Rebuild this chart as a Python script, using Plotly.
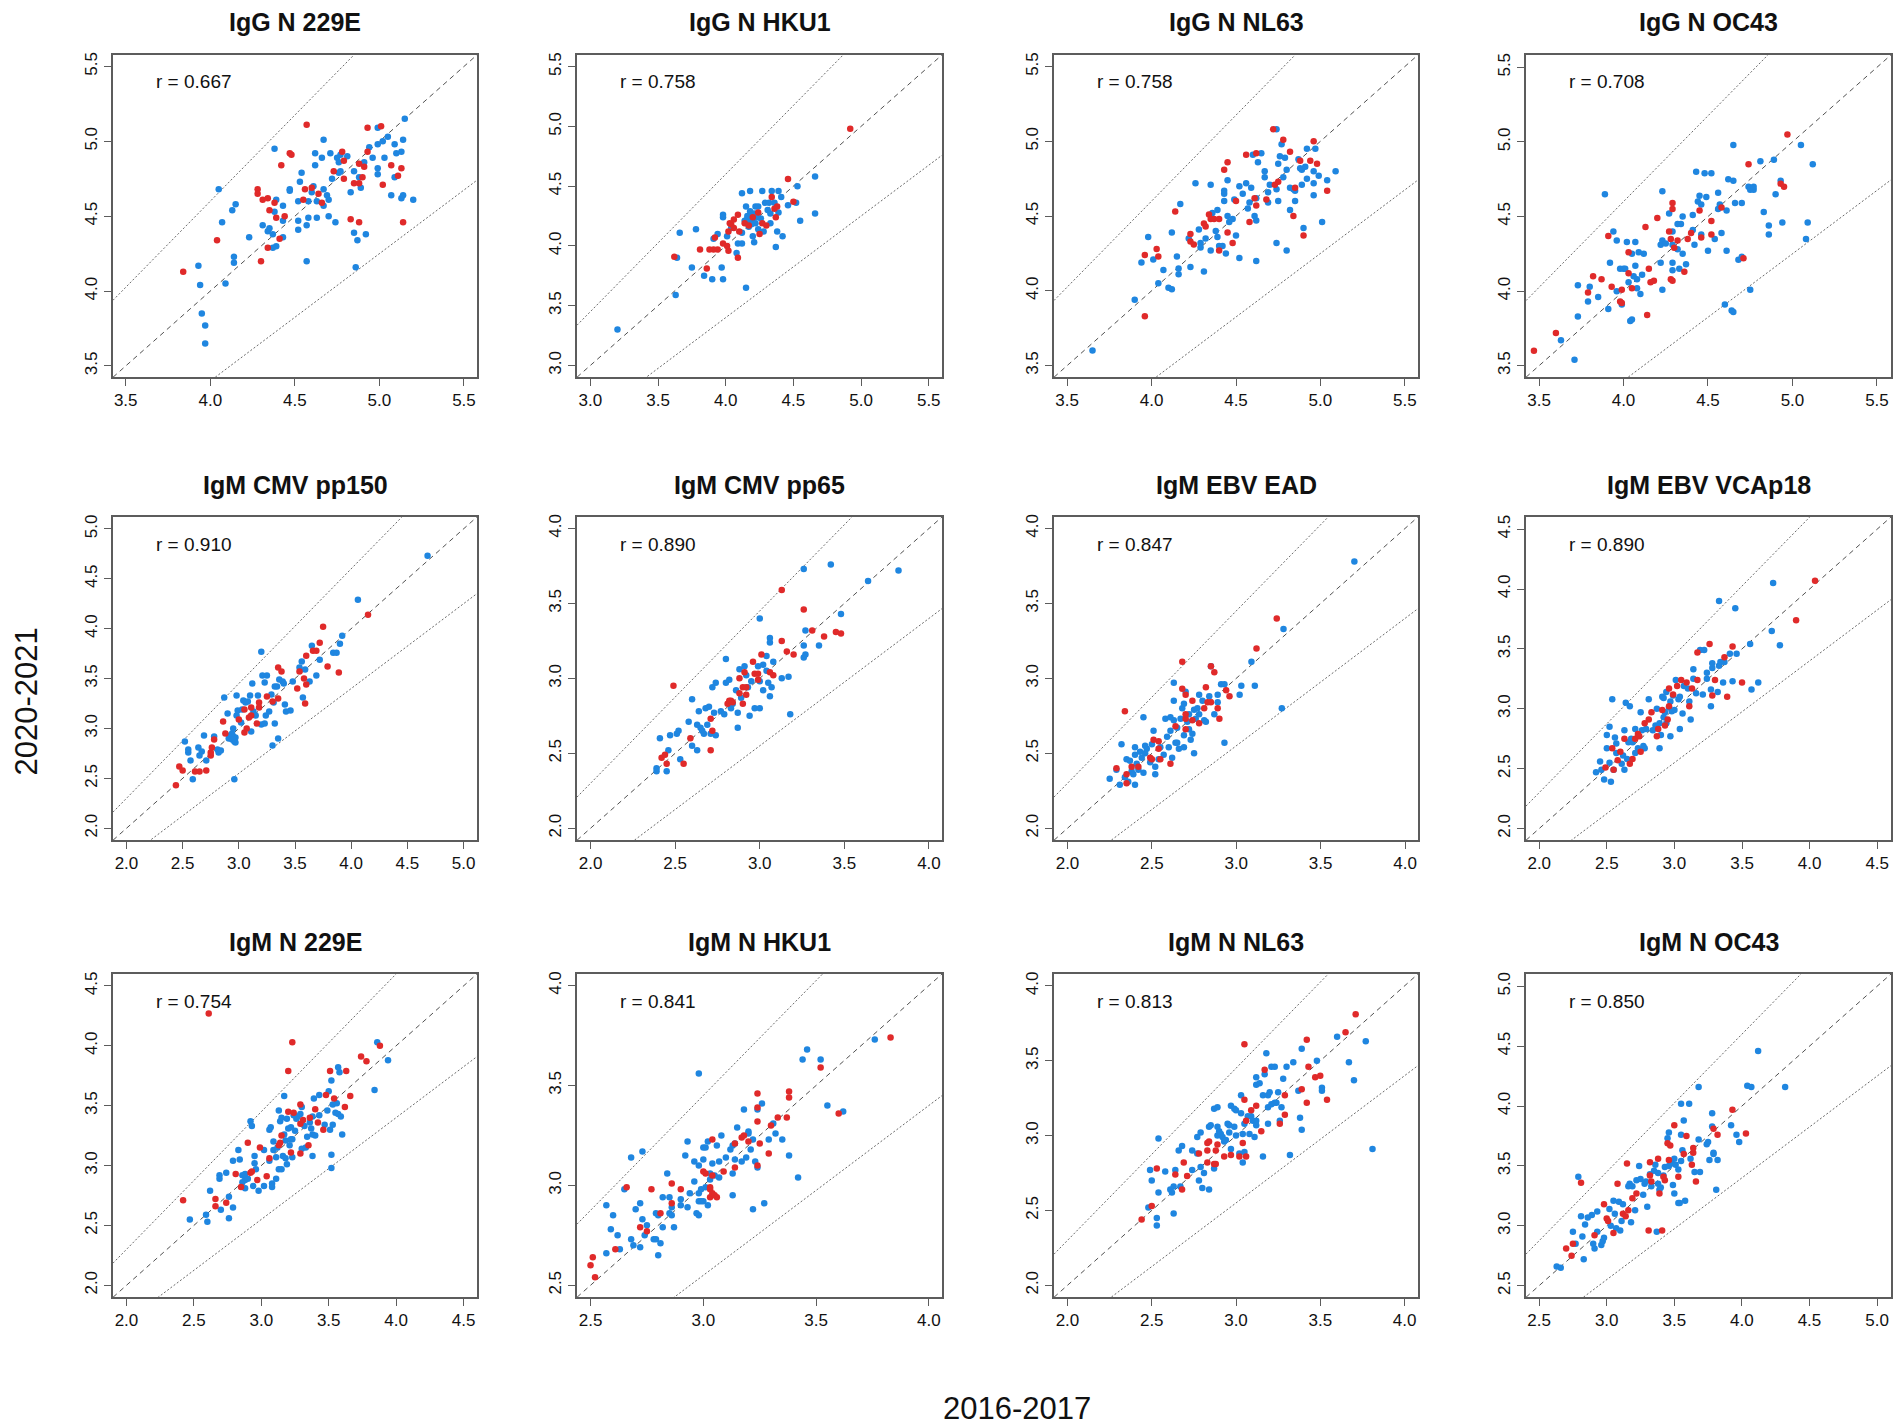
import plotly.graph_objects as go

# panel titles, correlation labels and the shared x/y range of each panel
titles = ["IgG N 229E", "IgG N HKU1", "IgG N NL63", "IgG N OC43",
          "IgM CMV pp150", "IgM CMV pp65", "IgM EBV EAD", "IgM EBV VCAp18",
          "IgM N 229E", "IgM N HKU1", "IgM N NL63", "IgM N OC43"]
r_values = ["0.667", "0.758", "0.758", "0.708",
            "0.910", "0.890", "0.847", "0.890",
            "0.754", "0.841", "0.813", "0.850"]
axis_ranges = [(3.425, 5.577), (2.901, 5.598), (3.422, 5.578), (3.423, 5.583),
               (1.880, 5.120), (1.920, 4.077), (1.920, 4.077), (1.902, 4.602),
               (1.900, 4.600), (2.440, 4.058), (1.920, 4.080), (2.403, 5.103)]

# points as (2016-2017, 2020-2021)
igg_229e_blue = [(3.93, 4.17), (3.94, 4.04), (3.95, 3.85), (3.97, 3.77), (3.97, 3.65), (4.05, 4.68), (4.07, 4.46),
                 (4.09, 4.05), (4.13, 4.54), (4.15, 4.58), (4.14, 4.23), (4.14, 4.19), (4.23, 4.36), (4.31, 4.44),
                 (4.34, 4.40), (4.35, 4.42), (4.37, 4.38), (4.39, 4.30), (4.37, 4.29), (4.38, 4.95), (4.38, 4.53),
                 (4.39, 4.61), (4.43, 4.57), (4.43, 4.47), (4.43, 4.36), (4.47, 4.68), (4.47, 4.67), (4.52, 4.60),
                 (4.52, 4.41), (4.52, 4.47), (4.53, 4.73), (4.54, 4.79), (4.57, 4.44), (4.57, 4.20), (4.58, 4.49),
                 (4.58, 4.60), (4.60, 4.66), (4.61, 4.70), (4.62, 4.92), (4.62, 4.84), (4.63, 4.49), (4.63, 4.60),
                 (4.66, 4.89), (4.67, 5.01), (4.67, 4.68), (4.67, 4.57), (4.69, 4.64), (4.70, 4.50), (4.70, 4.61),
                 (4.71, 4.92), (4.72, 4.75), (4.74, 4.46), (4.75, 4.89), (4.76, 4.86), (4.76, 4.79), (4.77, 4.91),
                 (4.77, 4.80), (4.81, 4.90), (4.83, 4.66), (4.85, 4.80), (4.85, 4.39), (4.87, 4.34), (4.86, 4.16),
                 (4.88, 4.76), (4.89, 4.69), (4.92, 4.38), (4.91, 4.86), (4.94, 4.96), (4.96, 4.89), (4.99, 4.98),
                 (4.99, 5.09), (4.99, 4.82), (4.99, 4.78), (5.02, 5.00), (5.03, 4.89), (5.05, 5.03), (5.07, 4.64),
                 (5.09, 4.98), (5.10, 4.92), (5.09, 4.76), (5.13, 4.93), (5.14, 5.01), (5.13, 4.62), (5.14, 4.64),
                 (5.15, 5.15), (5.20, 4.61)]
igg_229e_red = [(3.84, 4.13), (4.04, 4.34), (4.28, 4.68), (4.28, 4.65), (4.31, 4.61), (4.34, 4.62), (4.35, 4.54),
                (4.38, 4.59), (4.39, 4.49), (4.42, 4.84), (4.41, 4.35), (4.44, 4.50), (4.34, 4.29), (4.30, 4.20),
                (4.47, 4.92), (4.48, 4.91), (4.57, 5.11), (4.56, 4.68), (4.55, 4.61), (4.60, 4.69), (4.64, 4.65),
                (4.66, 4.59), (4.73, 4.80), (4.78, 4.93), (4.79, 4.75), (4.79, 4.87), (4.83, 4.48), (4.85, 4.72),
                (4.88, 4.46), (4.88, 4.72), (4.88, 4.85), (4.90, 4.76), (4.91, 4.83), (4.93, 5.09), (4.93, 4.93),
                (5.01, 5.10), (5.02, 4.71), (5.07, 4.84), (5.11, 4.77), (5.13, 4.82), (5.14, 4.46)]

igg_hku1_blue = [(3.20, 3.30), (3.63, 3.59), (3.64, 3.90), (3.66, 4.11), (3.75, 3.82), (3.78, 4.14), (3.84, 3.75),
                 (3.90, 3.72), (3.91, 4.06), (3.94, 4.10), (3.97, 3.82), (3.98, 3.72), (3.98, 4.26), (3.98, 4.24),
                 (4.01, 4.08), (4.04, 4.15), (4.08, 3.94), (4.09, 4.02), (4.12, 4.44), (4.12, 4.02), (4.12, 4.11),
                 (4.15, 3.65), (4.15, 4.33), (4.16, 4.25), (4.17, 4.20), (4.18, 4.29), (4.18, 4.46), (4.19, 4.22),
                 (4.20, 4.08), (4.21, 4.03), (4.22, 4.19), (4.22, 4.33), (4.24, 4.14), (4.24, 4.33), (4.26, 4.23),
                 (4.27, 4.46), (4.28, 4.12), (4.29, 4.36), (4.31, 4.30), (4.32, 4.36), (4.33, 4.27), (4.33, 4.19),
                 (4.34, 4.46), (4.36, 4.36), (4.37, 3.99), (4.39, 4.46), (4.38, 4.12), (4.39, 4.28), (4.41, 4.41),
                 (4.42, 4.08), (4.46, 4.34), (4.52, 4.36), (4.53, 4.50), (4.55, 4.21), (4.66, 4.58), (4.66, 4.27),
                 (4.20, 4.25), (4.17, 4.16), (4.14, 4.21), (4.19, 4.18), (4.23, 4.24), (4.16, 4.23), (4.21, 4.27)]
igg_hku1_red = [(4.92, 4.98), (4.46, 4.56), (4.50, 4.37), (4.34, 4.41), (4.36, 4.31), (4.38, 4.33), (4.37, 4.24),
                (4.30, 4.17), (4.27, 4.19), (4.25, 4.10), (4.24, 4.28), (4.20, 4.24), (4.17, 4.17), (4.14, 4.19),
                (4.09, 4.26), (4.06, 4.22), (4.04, 4.18), (4.03, 4.19), (4.06, 4.15), (4.10, 4.12), (4.02, 4.12),
                (3.98, 4.02), (4.01, 4.00), (4.02, 3.96), (3.92, 4.07), (3.94, 3.97), (3.91, 3.97), (3.88, 3.97),
                (3.81, 3.97), (3.86, 3.81), (4.09, 3.90), (3.62, 3.91)]

igg_nl63_blue = [(3.65, 3.60), (3.90, 3.94), (3.94, 4.19), (3.98, 4.36), (4.01, 4.21), (4.04, 4.05), (4.07, 4.14),
                 (4.10, 4.02), (4.12, 4.01), (4.12, 4.39), (4.15, 4.23), (4.16, 4.15), (4.16, 4.11), (4.17, 4.58),
                 (4.23, 4.16), (4.22, 4.35), (4.26, 4.72), (4.28, 4.41), (4.29, 4.32), (4.29, 4.29), (4.31, 4.13),
                 (4.32, 4.35), (4.35, 4.71), (4.35, 4.27), (4.36, 4.52), (4.38, 4.40), (4.39, 4.36), (4.39, 4.54),
                 (4.40, 4.30), (4.42, 4.30), (4.43, 4.60), (4.43, 4.67), (4.43, 4.65), (4.44, 4.25), (4.45, 4.50),
                 (4.45, 4.74), (4.46, 4.46), (4.48, 4.48), (4.49, 4.61), (4.50, 4.37), (4.52, 4.22), (4.52, 4.70),
                 (4.54, 4.65), (4.56, 4.72), (4.57, 4.55), (4.58, 4.59), (4.59, 4.69), (4.60, 4.91), (4.61, 4.50),
                 (4.62, 4.47), (4.62, 4.20), (4.62, 4.62), (4.63, 4.86), (4.65, 4.92), (4.67, 4.80), (4.67, 4.76),
                 (4.69, 4.66), (4.69, 4.59), (4.70, 4.71), (4.74, 4.32), (4.74, 4.68), (4.75, 4.60), (4.74, 5.08),
                 (4.75, 4.85), (4.76, 4.90), (4.77, 4.98), (4.78, 4.76), (4.79, 4.89), (4.80, 4.81), (4.80, 4.27),
                 (4.82, 4.54), (4.82, 4.69), (4.84, 4.68), (4.85, 4.67), (4.85, 4.60), (4.87, 4.88), (4.88, 4.82),
                 (4.89, 4.81), (4.89, 4.71), (4.90, 4.42), (4.91, 4.83), (4.92, 4.75), (4.92, 4.95), (4.96, 4.80),
                 (4.96, 4.72), (4.96, 4.64), (4.97, 4.95), (4.99, 4.77), (5.01, 4.46), (5.04, 4.74), (5.09, 4.80)]
igg_nl63_red = [(3.96, 3.83), (3.96, 4.24), (4.03, 4.28), (4.04, 4.23), (4.14, 4.53), (4.23, 4.38), (4.23, 4.33),
                (4.25, 4.31), (4.31, 4.45), (4.32, 4.43), (4.34, 4.51), (4.35, 4.48), (4.37, 4.48), (4.40, 4.48),
                (4.40, 4.27), (4.43, 4.81), (4.45, 4.86), (4.45, 4.39), (4.48, 4.32), (4.50, 4.60), (4.56, 4.91),
                (4.58, 4.46), (4.61, 4.62), (4.62, 4.57), (4.62, 4.92), (4.68, 4.61), (4.72, 5.08), (4.73, 4.71),
                (4.75, 4.73), (4.78, 5.01), (4.82, 4.93), (4.84, 4.50), (4.85, 4.69), (4.88, 4.87), (4.90, 4.37),
                (4.94, 4.87), (4.96, 5.00), (4.98, 4.85), (5.04, 4.67)]

igg_oc43_blue = [(3.63, 3.67), (3.71, 3.54), (3.73, 4.04), (3.73, 3.83), (3.79, 3.93), (3.80, 4.03), (3.85, 3.96),
                 (3.89, 4.65), (3.91, 3.88), (3.92, 4.19), (3.94, 4.40), (3.96, 4.34), (3.96, 4.00), (3.98, 4.15),
                 (3.99, 3.91), (4.00, 4.15), (4.01, 4.15), (4.02, 4.33), (4.03, 4.06), (4.04, 3.80), (4.05, 3.81),
                 (4.05, 4.25), (4.06, 4.10), (4.07, 4.33), (4.07, 4.17), (4.08, 4.02), (4.08, 4.08), (4.09, 4.26),
                 (4.10, 3.98), (4.11, 4.11), (4.12, 4.25), (4.23, 4.67), (4.22, 4.31), (4.22, 4.19), (4.23, 4.01),
                 (4.23, 4.34), (4.25, 4.32), (4.27, 4.52), (4.29, 4.19), (4.29, 4.31), (4.29, 4.14), (4.29, 4.40),
                 (4.32, 4.45), (4.32, 4.28), (4.33, 4.15), (4.34, 4.45), (4.35, 4.50), (4.35, 4.25), (4.37, 4.18),
                 (4.41, 4.41), (4.41, 4.51), (4.42, 4.31), (4.43, 4.80), (4.44, 4.60), (4.45, 4.64), (4.46, 4.58),
                 (4.46, 4.38), (4.48, 4.79), (4.49, 4.63), (4.50, 4.27), (4.52, 4.79), (4.54, 4.35), (4.56, 4.66),
                 (4.56, 4.55), (4.57, 4.58), (4.58, 4.39), (4.61, 4.54), (4.61, 4.27), (4.62, 4.75), (4.60, 3.91),
                 (4.64, 3.87), (4.65, 3.86), (4.65, 4.74), (4.65, 4.98), (4.66, 4.59), (4.68, 4.21), (4.70, 4.23),
                 (4.70, 4.59), (4.74, 4.70), (4.75, 4.01), (4.75, 4.68), (4.77, 4.68), (4.77, 4.70), (4.81, 4.87),
                 (4.83, 4.53), (4.86, 4.44), (4.86, 4.38), (4.89, 4.88), (4.90, 4.65), (4.93, 4.74), (4.94, 4.46),
                 (5.05, 4.98), (5.08, 4.35), (5.09, 4.46), (5.12, 4.85)]
igg_oc43_red = [(3.47, 3.60), (3.60, 3.72), (3.79, 3.99), (3.82, 4.10), (3.87, 4.08), (3.91, 4.37), (3.93, 4.03),
                (3.98, 3.93), (3.99, 3.92), (3.99, 4.01), (4.03, 4.12), (4.03, 4.26), (4.05, 4.02), (4.13, 4.43),
                (4.14, 3.84), (4.15, 4.15), (4.16, 4.06), (4.18, 4.07), (4.20, 4.49), (4.27, 4.40), (4.29, 4.59),
                (4.29, 4.55), (4.28, 4.35), (4.28, 4.08), (4.29, 4.07), (4.32, 4.34), (4.30, 4.29), (4.36, 4.13),
                (4.38, 4.35), (4.40, 4.39), (4.45, 4.54), (4.46, 4.36), (4.52, 4.47), (4.52, 4.38), (4.58, 4.56),
                (4.71, 4.22), (4.74, 4.85), (4.93, 4.72), (4.95, 4.70), (4.97, 5.05)]

igm_pp150_blue = [(2.52, 2.87), (2.55, 2.76), (2.55, 2.79), (2.57, 2.68), (2.59, 2.49), (2.64, 2.81), (2.65, 2.73),
                  (2.67, 2.77), (2.69, 2.93), (2.71, 2.68), (2.78, 2.92), (2.81, 2.79), (2.82, 2.76), (2.84, 2.78),
                  (2.87, 3.31), (2.90, 3.15), (2.91, 2.90), (2.92, 2.93), (2.94, 2.89), (2.95, 3.00), (2.96, 2.87),
                  (2.96, 2.49), (2.97, 2.91), (2.98, 3.13), (2.98, 3.33), (2.99, 3.18), (3.02, 3.06), (3.03, 3.19),
                  (3.04, 3.28), (3.06, 3.26), (3.08, 3.27), (3.10, 3.33), (3.11, 2.97), (3.12, 3.45), (3.13, 3.17),
                  (3.15, 3.13), (3.17, 3.33), (3.20, 3.77), (3.21, 3.53), (3.20, 3.04), (3.23, 3.46), (3.23, 3.05),
                  (3.24, 3.13), (3.25, 3.53), (3.27, 3.17), (3.29, 3.34), (3.30, 2.83), (3.31, 3.26), (3.32, 3.05),
                  (3.32, 3.42), (3.34, 3.42), (3.35, 2.90), (3.36, 3.49), (3.39, 3.47), (3.40, 3.45), (3.41, 3.24),
                  (3.42, 3.17), (3.46, 3.18), (3.48, 3.47), (3.54, 3.61), (3.56, 3.67), (3.57, 3.31), (3.59, 3.59),
                  (3.63, 3.47), (3.65, 3.83), (3.69, 3.53), (3.72, 3.69), (3.84, 3.76), (3.87, 3.76), (3.90, 3.85),
                  (3.92, 3.93), (4.06, 4.29), (4.68, 4.73), (2.95, 2.92), (2.97, 2.86), (2.94, 2.95)]
igm_pp150_red = [(2.44, 2.43), (2.47, 2.62), (2.50, 2.58), (2.61, 2.57), (2.65, 2.57), (2.71, 2.58), (2.75, 2.73),
                 (2.75, 2.76), (2.76, 2.81), (2.78, 2.89), (2.86, 3.07), (2.88, 2.95), (3.00, 3.09), (3.05, 3.19),
                 (3.05, 2.96), (3.07, 3.00), (3.09, 3.11), (3.11, 3.21), (3.11, 3.13), (3.16, 3.05), (3.18, 3.26),
                 (3.18, 3.21), (3.25, 3.32), (3.30, 3.27), (3.35, 3.61), (3.38, 3.57), (3.35, 3.30), (3.52, 3.40),
                 (3.54, 3.57), (3.58, 3.50), (3.59, 3.25), (3.60, 3.73), (3.60, 3.44), (3.66, 3.78), (3.69, 3.78),
                 (3.72, 3.86), (3.75, 4.02), (3.79, 3.62), (3.89, 3.56), (4.15, 4.14)]

igm_pp65_blue = [(2.39, 2.40), (2.39, 2.38), (2.41, 2.60), (2.45, 2.38), (2.46, 2.52), (2.47, 2.62), (2.53, 2.46),
                 (2.51, 2.63), (2.52, 2.65), (2.58, 2.71), (2.60, 2.55), (2.60, 2.86), (2.63, 2.52), (2.63, 2.69),
                 (2.64, 2.78), (2.65, 2.67), (2.66, 2.65), (2.67, 2.63), (2.68, 2.80), (2.69, 2.69), (2.70, 2.81),
                 (2.71, 2.63), (2.72, 2.94), (2.73, 2.77), (2.74, 2.62), (2.74, 2.97), (2.77, 2.78), (2.79, 2.76),
                 (2.80, 3.13), (2.80, 2.97), (2.82, 2.99), (2.83, 2.80), (2.84, 2.83), (2.86, 2.92), (2.87, 2.77),
                 (2.87, 2.67), (2.88, 3.06), (2.89, 2.87), (2.91, 3.08), (2.92, 3.02), (2.93, 2.94), (2.94, 2.75),
                 (2.95, 2.98), (2.97, 2.80), (2.99, 3.08), (3.00, 2.98), (3.00, 3.40), (3.00, 2.80), (3.02, 2.92),
                 (3.02, 3.09), (3.04, 3.15), (3.04, 3.05), (3.05, 2.97), (3.06, 3.27), (3.06, 3.24), (3.06, 2.88),
                 (3.07, 2.94), (3.08, 3.11), (3.13, 3.00), (3.17, 3.01), (3.18, 2.76), (3.26, 3.22), (3.26, 3.14),
                 (3.27, 3.16), (3.27, 3.32), (3.26, 3.73), (3.35, 3.22), (3.42, 3.76), (3.48, 3.43), (3.64, 3.65),
                 (3.82, 3.72)]
igm_pp65_red = [(2.49, 2.95), (2.42, 2.47), (2.44, 2.49), (2.45, 2.43), (2.55, 2.43), (2.59, 2.60), (2.71, 2.52),
                (2.71, 2.73), (2.72, 2.65), (2.81, 2.83), (2.82, 2.85), (2.83, 2.85), (2.84, 2.84), (2.88, 3.00),
                (2.88, 2.90), (2.90, 2.94), (2.90, 2.83), (2.92, 2.94), (2.92, 2.89), (2.91, 3.04), (2.96, 3.11),
                (2.97, 3.03), (2.99, 2.99), (2.99, 3.03), (3.01, 3.16), (3.06, 3.04), (3.08, 3.02), (3.13, 3.25),
                (3.13, 3.59), (3.16, 3.18), (3.20, 3.16), (3.26, 3.46), (3.31, 3.32), (3.38, 3.28), (3.45, 3.31),
                (3.48, 3.30)]

igm_ead_blue = [(2.25, 2.33), (2.29, 2.39), (2.31, 2.29), (2.32, 2.56), (2.34, 2.34), (2.35, 2.46), (2.36, 2.31),
                (2.37, 2.45), (2.38, 2.38), (2.39, 2.36), (2.40, 2.29), (2.40, 2.54), (2.40, 2.49), (2.41, 2.43),
                (2.42, 2.39), (2.43, 2.51), (2.44, 2.47), (2.45, 2.74), (2.45, 2.37), (2.46, 2.55), (2.46, 2.50),
                (2.47, 2.53), (2.49, 2.44), (2.50, 2.56), (2.51, 2.65), (2.52, 2.36), (2.52, 2.41), (2.54, 2.46),
                (2.55, 2.54), (2.57, 2.49), (2.58, 2.73), (2.59, 2.61), (2.60, 2.54), (2.61, 2.74), (2.61, 2.65),
                (2.62, 2.47), (2.63, 2.85), (2.63, 2.97), (2.63, 2.72), (2.64, 2.57), (2.65, 2.67), (2.65, 2.57),
                (2.66, 2.53), (2.67, 2.73), (2.68, 2.80), (2.69, 2.54), (2.69, 2.62), (2.69, 2.83), (2.70, 2.91),
                (2.71, 2.71), (2.72, 2.76), (2.72, 2.66), (2.73, 2.59), (2.74, 2.63), (2.75, 2.79), (2.75, 2.50),
                (2.76, 2.73), (2.77, 2.80), (2.78, 2.89), (2.78, 2.76), (2.80, 2.85), (2.81, 2.72), (2.82, 2.71),
                (2.84, 2.88), (2.85, 3.08), (2.87, 2.76), (2.89, 2.84), (2.89, 2.89), (2.91, 2.96), (2.93, 2.96),
                (2.93, 2.57), (3.02, 2.89), (3.03, 2.95), (3.09, 3.11), (3.11, 2.95), (3.27, 2.80), (3.28, 3.33),
                (3.70, 3.78)]
igm_ead_red = [(2.29, 2.40), (2.35, 2.36), (2.35, 2.30), (2.38, 2.41), (2.42, 2.41), (2.34, 2.78), (2.49, 2.47),
               (2.50, 2.46), (2.51, 2.59), (2.54, 2.58), (2.55, 2.46), (2.54, 2.53), (2.61, 2.43), (2.64, 2.68),
               (2.68, 3.11), (2.68, 2.93), (2.70, 2.89), (2.70, 2.73), (2.70, 2.76), (2.70, 2.66), (2.74, 2.72),
               (2.74, 2.85), (2.78, 2.70), (2.81, 2.80), (2.82, 2.94), (2.83, 2.84), (2.85, 3.08), (2.85, 2.84),
               (2.87, 3.04), (2.89, 2.80), (2.90, 2.73), (2.94, 2.92), (2.96, 2.88), (3.12, 3.20), (3.24, 3.40)]

igm_vcap18_blue = [(2.42, 2.47), (2.45, 2.56), (2.46, 2.49), (2.48, 2.41), (2.50, 2.67), (2.50, 2.78), (2.52, 2.55),
                   (2.52, 2.85), (2.53, 2.39), (2.54, 3.08), (2.55, 2.49), (2.56, 2.76), (2.57, 2.71), (2.57, 2.63),
                   (2.61, 2.54), (2.62, 2.61), (2.63, 2.82), (2.63, 2.49), (2.64, 3.05), (2.65, 2.58), (2.66, 2.72),
                   (2.67, 3.02), (2.68, 2.75), (2.69, 2.72), (2.71, 2.83), (2.71, 2.63), (2.73, 2.67), (2.75, 2.97),
                   (2.76, 2.82), (2.77, 2.69), (2.78, 2.67), (2.79, 2.83), (2.81, 3.08), (2.84, 2.82), (2.86, 2.86),
                   (2.87, 3.00), (2.89, 2.67), (2.89, 2.88), (2.90, 2.78), (2.91, 3.10), (2.92, 2.93), (2.92, 3.09),
                   (2.93, 2.97), (2.94, 3.14), (2.94, 2.88), (2.96, 3.01), (2.97, 2.77), (2.97, 3.06), (2.98, 2.98),
                   (2.99, 3.11), (3.00, 2.99), (3.01, 3.24), (3.03, 3.08), (3.04, 2.83), (3.04, 3.10), (3.06, 2.96),
                   (3.07, 3.19), (3.10, 3.17), (3.11, 3.06), (3.12, 2.91), (3.14, 3.33), (3.14, 3.25), (3.16, 3.13),
                   (3.19, 3.49), (3.21, 3.12), (3.22, 3.49), (3.24, 3.30), (3.24, 3.25), (3.27, 3.02), (3.27, 3.16),
                   (3.28, 3.34), (3.28, 3.38), (3.32, 3.14), (3.33, 3.90), (3.33, 3.36), (3.34, 3.39), (3.36, 3.22),
                   (3.37, 3.39), (3.41, 3.46), (3.43, 3.23), (3.45, 3.84), (3.46, 3.46), (3.56, 3.54), (3.57, 3.16),
                   (3.62, 3.22), (3.72, 3.65), (3.73, 4.05), (3.78, 3.53)]
igm_vcap18_red = [(2.49, 2.51), (2.55, 2.49), (2.54, 2.67), (2.58, 2.57), (2.60, 2.64), (2.63, 2.75), (2.67, 2.54),
                  (2.69, 2.58), (2.71, 2.75), (2.73, 2.79), (2.74, 2.77), (2.75, 2.64), (2.78, 2.88), (2.81, 2.91),
                  (2.83, 2.97), (2.87, 2.77), (2.88, 2.83), (2.93, 2.86), (2.95, 2.91), (2.91, 2.99), (2.96, 3.02),
                  (2.96, 3.17), (2.99, 3.12), (3.02, 3.19), (3.05, 3.24), (3.09, 3.22), (3.11, 3.02), (3.13, 3.17),
                  (3.17, 3.24), (3.17, 3.47), (3.26, 3.54), (3.28, 3.11), (3.30, 3.24), (3.37, 3.43), (3.39, 3.10),
                  (3.43, 3.52), (3.50, 3.22), (3.90, 3.74), (4.04, 4.07)]

igm_229e_blue = [(2.47, 2.55), (2.59, 2.59), (2.60, 2.53), (2.62, 2.79), (2.69, 2.92), (2.69, 2.89), (2.70, 2.63),
                 (2.74, 2.94), (2.76, 2.74), (2.76, 2.56), (2.79, 2.65), (2.79, 3.04), (2.83, 3.13), (2.84, 3.05),
                 (2.86, 2.92), (2.86, 2.86), (2.88, 2.81), (2.88, 2.88), (2.88, 2.93), (2.90, 2.89), (2.92, 3.37),
                 (2.93, 3.33), (2.94, 2.83), (2.95, 3.02), (2.95, 3.08), (2.96, 2.97), (2.98, 2.79), (3.02, 2.83),
                 (3.02, 3.13), (3.06, 3.04), (3.06, 3.30), (3.07, 3.32), (3.08, 2.85), (3.08, 2.82), (3.09, 3.20),
                 (3.09, 3.13), (3.11, 2.89), (3.11, 3.07), (3.12, 3.15), (3.13, 2.97), (3.13, 3.46), (3.14, 3.37),
                 (3.15, 2.97), (3.15, 3.40), (3.16, 3.08), (3.17, 3.58), (3.17, 3.26), (3.18, 3.21), (3.18, 3.06),
                 (3.19, 3.39), (3.19, 3.01), (3.20, 3.31), (3.21, 3.17), (3.22, 3.22), (3.22, 3.32), (3.23, 3.07),
                 (3.23, 3.22), (3.24, 3.42), (3.25, 3.29), (3.26, 3.39), (3.27, 3.41), (3.29, 3.43), (3.30, 3.14),
                 (3.30, 3.49), (3.32, 3.33), (3.33, 3.15), (3.34, 3.24), (3.36, 3.36), (3.37, 3.31), (3.38, 3.41),
                 (3.38, 3.26), (3.38, 3.08), (3.39, 3.56), (3.40, 3.25), (3.43, 3.59), (3.43, 3.42), (3.47, 3.34),
                 (3.49, 3.46), (3.50, 3.62), (3.51, 3.30), (3.52, 3.71), (3.52, 3.09), (3.52, 2.98), (3.53, 3.51),
                 (3.53, 3.34), (3.55, 3.44), (3.56, 3.52), (3.57, 3.82), (3.57, 3.43), (3.58, 3.78), (3.59, 3.41),
                 (3.60, 3.26), (3.84, 3.63), (3.86, 4.03), (3.94, 3.88)]
igm_229e_red = [(2.42, 2.71), (2.61, 4.27), (2.66, 2.66), (2.66, 2.72), (2.74, 2.69), (2.81, 2.93), (2.85, 2.82),
                (2.90, 3.19), (2.92, 2.94), (2.93, 2.95), (2.97, 2.88), (2.99, 3.15), (3.04, 2.91), (3.06, 3.06),
                (3.13, 3.17), (3.14, 3.19), (3.15, 3.25), (3.20, 3.79), (3.20, 3.45), (3.22, 3.11), (3.23, 4.03),
                (3.24, 3.44), (3.29, 3.35), (3.29, 3.51), (3.29, 3.10), (3.31, 3.38), (3.35, 3.17), (3.36, 3.40),
                (3.40, 3.47), (3.42, 3.36), (3.46, 3.30), (3.48, 3.59), (3.51, 3.79), (3.54, 3.56), (3.62, 3.49),
                (3.63, 3.79), (3.66, 3.58), (3.74, 3.91), (3.78, 3.87), (3.88, 4.00)]

igm_hku1_blue = [(2.57, 2.66), (2.57, 2.90), (2.59, 2.78), (2.60, 2.85), (2.62, 2.75), (2.63, 2.68), (2.65, 2.98),
                 (2.68, 2.73), (2.68, 3.14), (2.69, 2.70), (2.70, 2.88), (2.72, 2.69), (2.72, 2.91), (2.73, 2.83),
                 (2.73, 3.17), (2.74, 2.75), (2.75, 2.80), (2.78, 2.73), (2.79, 2.86), (2.79, 2.73), (2.80, 2.85),
                 (2.80, 2.65), (2.81, 2.71), (2.82, 2.79), (2.82, 2.94), (2.84, 3.06), (2.85, 2.94), (2.85, 2.86),
                 (2.86, 2.85), (2.86, 2.89), (2.87, 2.79), (2.90, 2.90), (2.90, 2.93), (2.92, 3.15), (2.93, 3.22),
                 (2.93, 2.89), (2.94, 2.96), (2.96, 3.12), (2.96, 3.02), (2.97, 2.86), (2.98, 3.10), (2.98, 3.56),
                 (2.98, 2.85), (2.98, 2.96), (2.98, 2.92), (2.99, 2.98), (2.99, 2.92), (3.00, 3.19), (3.00, 3.13),
                 (3.00, 2.92), (3.01, 3.19), (3.01, 2.99), (3.02, 2.90), (3.02, 3.22), (3.03, 3.06), (3.03, 3.03),
                 (3.04, 3.11), (3.05, 3.05), (3.06, 3.20), (3.07, 3.04), (3.07, 3.12), (3.08, 3.25), (3.10, 3.14),
                 (3.12, 3.18), (3.13, 3.20), (3.13, 2.95), (3.13, 3.06), (3.14, 3.21), (3.14, 3.13), (3.15, 3.29),
                 (3.17, 3.12), (3.18, 3.38), (3.19, 3.14), (3.20, 3.27), (3.20, 3.26), (3.21, 3.18), (3.22, 3.23),
                 (3.22, 2.88), (3.23, 3.12), (3.24, 3.09), (3.24, 3.38), (3.26, 3.41), (3.27, 2.91), (3.29, 3.23),
                 (3.31, 3.31), (3.32, 3.26), (3.35, 3.23), (3.38, 3.15), (3.42, 3.04), (3.44, 3.63), (3.46, 3.68),
                 (3.52, 3.63), (3.55, 3.40), (3.62, 3.37), (3.76, 3.73)]
igm_hku1_red = [(2.50, 2.60), (2.51, 2.64), (2.52, 2.54), (2.61, 2.68), (2.66, 2.99), (2.72, 2.79), (2.75, 2.77),
                (2.77, 2.98), (2.81, 2.86), (2.86, 3.01), (2.86, 2.91), (2.90, 2.98), (3.00, 3.07), (3.01, 3.06),
                (3.03, 2.99), (3.03, 2.98), (3.03, 2.94), (3.04, 3.05), (3.04, 3.23), (3.04, 2.96), (3.05, 2.95),
                (3.06, 2.94), (3.09, 3.07), (3.14, 3.09), (3.14, 3.21), (3.17, 3.24), (3.18, 3.25), (3.20, 3.22),
                (3.24, 3.32), (3.24, 3.39), (3.24, 3.46), (3.24, 3.10), (3.25, 3.21), (3.29, 3.16), (3.30, 3.30),
                (3.33, 3.34), (3.37, 3.34), (3.38, 3.47), (3.38, 3.44), (3.52, 3.59), (3.60, 3.36), (3.83, 3.74)]

igm_nl63_blue = [(2.49, 2.77), (2.48, 2.52), (2.50, 2.70), (2.53, 2.40), (2.53, 2.45), (2.54, 2.98), (2.54, 2.62),
                 (2.58, 2.76), (2.61, 2.64), (2.62, 2.62), (2.63, 2.48), (2.63, 2.66), (2.64, 2.77), (2.66, 2.90),
                 (2.67, 2.66), (2.68, 2.93), (2.74, 2.90), (2.74, 2.77), (2.77, 2.88), (2.77, 2.99), (2.78, 2.70),
                 (2.79, 2.79), (2.79, 3.02), (2.80, 2.65), (2.81, 2.75), (2.84, 2.64), (2.84, 3.06), (2.85, 3.07),
                 (2.87, 3.18), (2.87, 2.78), (2.89, 3.06), (2.89, 3.19), (2.89, 3.00), (2.90, 3.03), (2.91, 3.01),
                 (2.92, 2.99), (2.93, 2.96), (2.94, 2.97), (2.95, 3.08), (2.96, 3.02), (2.96, 3.07), (2.97, 3.20),
                 (2.97, 2.91), (2.99, 3.18), (2.99, 3.06), (3.00, 3.17), (3.00, 3.00), (3.02, 2.88), (3.03, 3.27),
                 (3.03, 3.15), (3.04, 3.01), (3.04, 2.82), (3.05, 2.89), (3.05, 3.08), (3.07, 3.13), (3.08, 3.01),
                 (3.09, 3.13), (3.10, 3.10), (3.11, 2.99), (3.12, 3.34), (3.12, 3.10), (3.12, 3.07), (3.12, 3.39),
                 (3.14, 3.35), (3.16, 2.86), (3.16, 3.27), (3.17, 3.41), (3.18, 3.55), (3.19, 3.19), (3.19, 3.27),
                 (3.19, 3.08), (3.20, 3.29), (3.21, 3.46), (3.21, 3.21), (3.23, 3.22), (3.23, 3.46), (3.24, 3.22),
                 (3.25, 3.29), (3.26, 3.10), (3.27, 3.19), (3.28, 3.38), (3.30, 3.46), (3.32, 2.87), (3.34, 3.49),
                 (3.37, 3.30), (3.38, 3.12), (3.39, 3.04), (3.39, 3.58), (3.48, 3.50), (3.51, 3.32), (3.51, 3.30),
                 (3.60, 3.66), (3.67, 3.49), (3.70, 3.37), (3.77, 3.63), (3.81, 2.91)]
igm_nl63_red = [(2.44, 2.44), (2.50, 2.53), (2.53, 2.78), (2.64, 2.74), (2.68, 2.64), (2.69, 2.82), (2.71, 2.73),
                (2.78, 2.88), (2.83, 2.90), (2.83, 2.95), (2.84, 2.96), (2.83, 2.82), (2.87, 2.81), (2.88, 2.81),
                (2.88, 2.90), (2.89, 2.94), (2.93, 2.86), (2.97, 2.87), (3.02, 2.86), (3.04, 2.95), (3.05, 3.61),
                (3.05, 3.24), (3.06, 2.86), (3.06, 3.10), (3.09, 3.17), (3.12, 3.20), (3.15, 3.03), (3.17, 3.44),
                (3.26, 3.08), (3.29, 3.27), (3.29, 3.14), (3.39, 3.31), (3.42, 3.22), (3.43, 3.46), (3.42, 3.64),
                (3.47, 3.39), (3.50, 3.40), (3.54, 3.24), (3.65, 3.69), (3.71, 3.81)]

igm_oc43_blue = [(2.63, 2.66), (2.66, 2.65), (2.75, 2.95), (2.77, 2.85), (2.79, 3.41), (2.81, 3.08), (2.82, 2.91),
                 (2.83, 2.72), (2.84, 3.01), (2.86, 3.07), (2.89, 3.09), (2.90, 2.85), (2.91, 2.81), (2.93, 2.95),
                 (2.93, 3.12), (2.96, 2.84), (2.97, 2.87), (2.98, 2.90), (3.02, 3.14), (3.03, 3.00), (3.05, 3.21),
                 (3.06, 3.10), (3.07, 2.98), (3.09, 3.20), (3.10, 2.96), (3.11, 3.04), (3.12, 3.18), (3.16, 3.33),
                 (3.17, 3.35), (3.18, 3.03), (3.19, 3.33), (3.21, 3.13), (3.22, 3.38), (3.24, 3.50), (3.25, 3.39),
                 (3.27, 3.26), (3.28, 3.35), (3.29, 3.37), (3.30, 3.16), (3.32, 3.43), (3.33, 3.33), (3.35, 3.46),
                 (3.36, 3.51), (3.37, 2.95), (3.38, 3.35), (3.38, 3.44), (3.39, 3.30), (3.40, 3.32), (3.42, 3.42),
                 (3.43, 3.49), (3.45, 3.73), (3.46, 3.78), (3.46, 3.50), (3.48, 3.52), (3.49, 3.34), (3.50, 3.56),
                 (3.50, 3.27), (3.51, 3.51), (3.53, 3.19), (3.53, 3.47), (3.54, 3.19), (3.55, 4.02), (3.55, 3.54),
                 (3.55, 3.76), (3.56, 3.63), (3.58, 3.21), (3.57, 3.88), (3.61, 4.02), (3.62, 3.56), (3.65, 3.45),
                 (3.68, 4.16), (3.68, 3.72), (3.69, 3.45), (3.74, 3.68), (3.75, 3.70), (3.76, 3.55), (3.78, 3.94),
                 (3.78, 3.83), (3.79, 3.61), (3.79, 3.60), (3.81, 3.30), (3.82, 3.55), (3.92, 3.84), (3.96, 3.76),
                 (3.98, 3.70), (4.04, 4.17), (4.07, 4.16), (4.12, 4.46), (4.32, 4.16)]
igm_oc43_red = [(2.70, 2.81), (2.74, 2.75), (2.75, 2.85), (2.81, 3.36), (2.91, 2.92), (2.98, 3.18), (3.00, 3.06),
                (3.01, 3.04), (3.05, 2.94), (3.08, 3.35), (3.12, 3.10), (3.14, 3.08), (3.15, 3.52), (3.16, 3.13),
                (3.19, 3.23), (3.22, 3.27), (3.31, 2.96), (3.32, 3.53), (3.32, 3.42), (3.33, 3.37), (3.38, 3.56),
                (3.39, 3.27), (3.41, 2.96), (3.42, 3.41), (3.43, 3.38), (3.45, 3.69), (3.46, 3.55), (3.47, 3.67),
                (3.50, 3.84), (3.53, 3.41), (3.57, 3.60), (3.59, 3.75), (3.63, 3.51), (3.64, 3.61), (3.64, 3.65),
                (3.66, 3.37), (3.79, 3.81), (3.82, 3.76), (3.93, 3.97), (4.03, 3.77)]

panels = [(igg_229e_blue, igg_229e_red), (igg_hku1_blue, igg_hku1_red),
          (igg_nl63_blue, igg_nl63_red), (igg_oc43_blue, igg_oc43_red),
          (igm_pp150_blue, igm_pp150_red), (igm_pp65_blue, igm_pp65_red),
          (igm_ead_blue, igm_ead_red), (igm_vcap18_blue, igm_vcap18_red),
          (igm_229e_blue, igm_229e_red), (igm_hku1_blue, igm_hku1_red),
          (igm_nl63_blue, igm_nl63_red), (igm_oc43_blue, igm_oc43_red)]

# the page body has an 8px margin, so the figure is a bit smaller and shifted
OFF = 8
W, H = 1902 - OFF, 1426 - OFF


def fx(px):
    return (px - OFF) / W


def fy(py):
    return 1 - (py - OFF) / H


col_px = [(113, 477), (577, 942), (1054, 1418), (1526, 1891)]
row_px = [(52, 375), (515, 839), (973, 1297)]
title_y = [19, 483, 941]
blue = "#1f86e0"
red = "#e02a2a"
frame = "#5c5c5c"
font = "Liberation Sans, Arial, sans-serif"

fig = go.Figure()
annotations = []

for i, (pts_blue, pts_red) in enumerate(panels):
    n = i + 1
    row, col = divmod(i, 4)
    xa = "x" if n == 1 else "x%d" % n
    ya = "y" if n == 1 else "y%d" % n
    lo, hi = axis_ranges[i]

    # identity line and the +/-15% lines
    for k, dash, c in [(1.0, "5px,4px", "#505050"), (1.15, "2px,2px", "#6a6a6a"), (0.85, "2px,2px", "#6a6a6a")]:
        fig.add_trace(go.Scatter(x=[lo, hi], y=[k * lo, k * hi], mode="lines",
                                 line=dict(color=c, width=1, dash=dash),
                                 xaxis=xa, yaxis=ya, hoverinfo="skip"))
    for pts, c in [(pts_blue, blue), (pts_red, red)]:
        fig.add_trace(go.Scatter(x=[p[0] for p in pts], y=[p[1] for p in pts], mode="markers",
                                 marker=dict(color=c, size=6.5, line=dict(width=0)),
                                 xaxis=xa, yaxis=ya))

    x0, x1 = col_px[col]
    y0, y1 = row_px[row]
    axis_style = dict(range=[lo, hi], dtick=0.5, tick0=0, tickformat=".1f",
                      showgrid=False, zeroline=False, showline=True, mirror=True,
                      linecolor=frame, linewidth=1.5, ticks="outside", ticklen=7,
                      tickwidth=1.2, tickcolor=frame,
                      tickfont=dict(family=font, size=17, color="#111111"))
    fig.layout["xaxis" if n == 1 else "xaxis%d" % n] = dict(
        axis_style, domain=[fx(x0), fx(x1)], anchor=ya)
    fig.layout["yaxis" if n == 1 else "yaxis%d" % n] = dict(
        axis_style, domain=[fy(y1), fy(y0)], anchor=xa, tickangle=-90)

    annotations.append(dict(text="<b>%s</b>" % titles[i], xref="paper", yref="paper",
                            x=fx((x0 + x1) / 2), y=fy(title_y[row]),
                            xanchor="center", yanchor="middle", showarrow=False,
                            font=dict(family=font, size=25, color="#111111")))
    annotations.append(dict(text="r = %s" % r_values[i], xref=xa + " domain", yref=ya + " domain",
                            x=0.113, y=0.916, xanchor="left", yanchor="middle", showarrow=False,
                            font=dict(family=font, size=19, color="#111111")))

annotations.append(dict(text="2020-2021", xref="paper", yref="paper", x=fx(27), y=fy(700),
                        textangle=-90, showarrow=False, xanchor="center", yanchor="middle",
                        font=dict(family=font, size=31, color="#111111")))
annotations.append(dict(text="2016-2017", xref="paper", yref="paper", x=fx(1017), y=fy(1408),
                        showarrow=False, xanchor="center", yanchor="middle",
                        font=dict(family=font, size=31, color="#111111")))

fig.update_layout(width=W, height=H, margin=dict(l=0, r=0, t=0, b=0),
                  paper_bgcolor="white", plot_bgcolor="white",
                  showlegend=False, annotations=annotations)

fig.write_html("out.html")
